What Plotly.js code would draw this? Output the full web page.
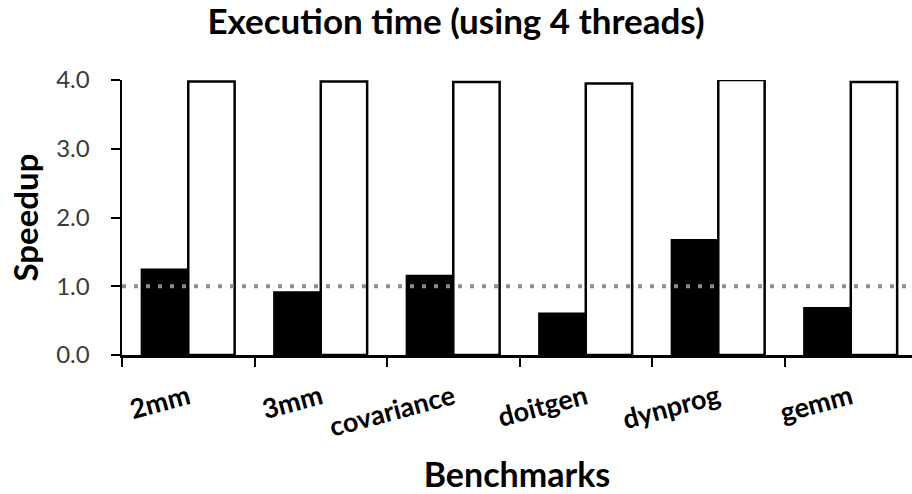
<!DOCTYPE html>
<html>
<head>
<meta charset="utf-8">
<script src="https://cdn.plot.ly/plotly-3.0.1.min.js"></script>
<style>html,body{margin:0;padding:0;background:#fff;}#chart{width:912px;height:494px;}</style>
</head>
<body>
<div id="chart"></div>
<script>
var categories = ["2mm", "3mm", "covariance", "doitgen", "dynprog", "gemm"];
var measuredSpeedup = [1.24, 0.91, 1.15, 0.60, 1.67, 0.68];
var idealSpeedup = [3.98, 3.98, 3.97, 3.95, 4.0, 3.97];
var yTickVals = [0, 1, 2, 3, 4];
var yTickText = ["0.0", "1.0", "2.0", "3.0", "4.0"];
var baseline = 1.0;

var FONT = "Lato, 'Open Sans', sans-serif";

var traces = [
  {
    type: "bar", x: categories, y: measuredSpeedup, name: "Measured",
    marker: {color: "#000000", line: {color: "#000000", width: 2.5}}
  },
  {
    type: "bar", x: categories, y: idealSpeedup, name: "Ideal",
    marker: {color: "#ffffff", line: {color: "#000000", width: 2.5}}
  }
];

var layout = {
  width: 912, height: 494,
  margin: {l: 122, r: 0, t: 80, b: 139},
  paper_bgcolor: "#ffffff", plot_bgcolor: "#ffffff",
  showlegend: false,
  barmode: "group", bargap: 0.3, bargroupgap: 0,
  title: {
    text: "<b>Execution time (using 4 threads)</b>",
    font: {family: FONT, size: 35, color: "#000000"},
    x: 0.5, xanchor: "center", y: 0.955, yanchor: "middle"
  },
  xaxis: {
    type: "category",
    range: [-0.5, 5.462],
    tickson: "boundaries",
    ticks: "outside", ticklen: 9, tickwidth: 2, tickcolor: "#000000",
    showline: true, linecolor: "#000000", linewidth: 2.5,
    showgrid: false, zeroline: false,
    tickangle: -15,
    ticklabelstandoff: 14,
    tickfont: {family: FONT, size: 27, color: "#000000", weight: "bold"},
    title: {text: "<b>Benchmarks</b>", font: {family: FONT, size: 34, color: "#000000"}, standoff: 24}
  },
  yaxis: {
    range: [0, 4],
    tickvals: yTickVals, ticktext: yTickText,
    ticks: "outside", ticklen: 9, tickwidth: 2, tickcolor: "#000000",
    showline: true, linecolor: "#000000", linewidth: 2.5,
    showgrid: false, zeroline: false,
    ticklabelstandoff: 16,
    tickfont: {family: FONT, size: 24, color: "#3a3a3a"},
    title: {text: "<b>Speedup</b>", font: {family: FONT, size: 33, color: "#000000"}, standoff: 8}
  },
  shapes: [{
    type: "line", xref: "paper", yref: "y",
    x0: 0, x1: 1, y0: baseline, y1: baseline,
    line: {color: "#8c8c8c", width: 4, dash: "4px,8px"}
  }]
};

Plotly.newPlot("chart", traces, layout, {displayModeBar: false, staticPlot: true});
</script>
</body>
</html>
